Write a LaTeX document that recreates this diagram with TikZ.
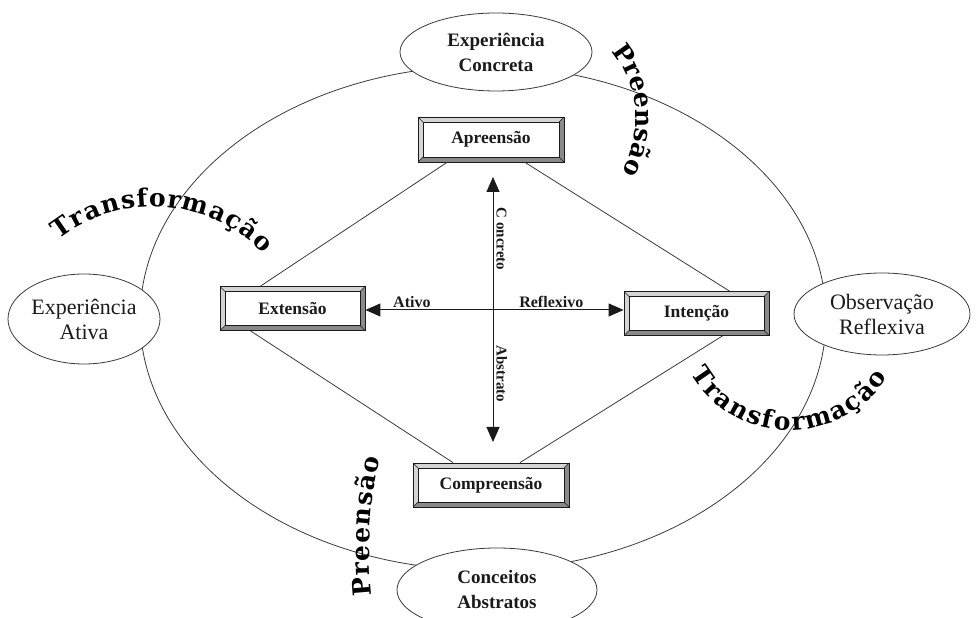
\documentclass[tikz,border=0pt]{standalone}
\usepackage{fontspec}
\setmainfont{Liberation Serif}
\newfontfamily\curvefont{DejaVu Serif}
\usetikzlibrary{arrows.meta,positioning,shapes.geometric,decorations.text}
\definecolor{kolbInk}{HTML}{1A1A1A}
\definecolor{kolbLine}{HTML}{3A3A3A}
\definecolor{kolbBevelLight}{HTML}{D4D4D4}
\definecolor{kolbBevelDark}{HTML}{8A8A8A}
\newcommand\curvestyle{\curvefont\bfseries\fontsize{25}{28}\selectfont}
\tikzset{
  every picture/.style={text=kolbInk},
  kolb cycle/.style={draw=kolbLine, line width=0.8pt},
  kolb stage/.style={ellipse, draw=kolbLine, line width=0.8pt, fill=white,
    inner sep=0pt, align=center, font=\fontsize{22}{25}\selectfont},
  kolb stage bold/.style={kolb stage, font=\bfseries\fontsize{19}{25}\selectfont},
  kolb box/.style={draw=kolbInk, line width=0.8pt, fill=kolbBevelDark,
    minimum width=145pt, minimum height=44pt, inner sep=0pt,
    font=\bfseries\fontsize{17.5}{20}\selectfont,
    path picture={
      \fill[kolbBevelLight] (path picture bounding box.south west)
        -- (path picture bounding box.north west)
        -- (path picture bounding box.north east)
        -- ([xshift=-5pt,yshift=-5pt]path picture bounding box.north east)
        -- ([xshift=5pt,yshift=-5pt]path picture bounding box.north west)
        -- ([xshift=5pt,yshift=5pt]path picture bounding box.south west) -- cycle;
      \draw[kolbInk, line width=0.6pt, fill=white]
        ([xshift=5pt,yshift=5pt]path picture bounding box.south west)
        rectangle ([xshift=-5pt,yshift=-5pt]path picture bounding box.north east);
      \foreach \c/\dx/\dy in {south west/5/5, north west/5/-5, north east/-5/-5, south east/-5/5}
        \draw[kolbInk, line width=0.5pt] (path picture bounding box.\c)
          -- ([xshift=\dx pt,yshift=\dy pt]path picture bounding box.\c);
    }},
  kolb line/.style={draw=kolbLine, line width=0.8pt},
  kolb arrow/.style={{Triangle[length=15pt,width=13pt]}-{Triangle[length=15pt,width=13pt]},
    draw=kolbInk, line width=1pt},
  kolb label/.style={font=\bfseries\fontsize{16}{18}\selectfont, inner sep=1.5pt},
  kolb axis label/.style={font=\bfseries\fontsize{15}{17}\selectfont, inner sep=3pt,
    rotate=-90, anchor=south},
  kolb curve/.style={decorate, decoration={text along path,
    text align={fit to path}, text={|\curvestyle|#1}}}
}

\begin{document}
\begin{tikzpicture}[x=1pt,y=1pt]
  \useasboundingbox (0,0) rectangle (978,618);
  \clip (0,0) rectangle (978,618);

  \draw[kolb cycle] (483,300) ellipse [x radius=343, y radius=252];

  \node[kolb stage bold, minimum width=192pt, minimum height=78pt] (concreta) at (496,566) {Experiência\\Concreta};
  \node[kolb stage, minimum width=152pt, minimum height=90pt] (ativa) at (84,299) {Experiência\\Ativa};
  \node[kolb stage, minimum width=176pt, minimum height=82pt] (reflexiva) at (882,304) {Observação\\Reflexiva};
  \node[kolb stage bold, minimum width=200pt, minimum height=84pt] (abstratos) at (497,28) {Conceitos\\Abstratos};

  \node[kolb box, minimum width=146pt, minimum height=45pt] (apreensao) at (491,478.5) {Apreensão};
  \node[kolb box] (extensao) at (292.5,309.5) {Extensão};
  \node[kolb box] (intencao) at (696.5,304.5) {Intenção};
  \node[kolb box, minimum width=156pt] (compreensao) at (491,133) {Compreensão};

  \draw[kolb line] ([xshift=-44pt]apreensao.south) -- ([xshift=-32pt]extensao.north);
  \draw[kolb line] ([xshift=34pt]apreensao.south) -- ([xshift=33pt]intencao.north);
  \draw[kolb line] ([xshift=-42pt]extensao.south) -- ([xshift=-38pt]compreensao.north);
  \draw[kolb line] ([xshift=26pt]intencao.south) -- ([xshift=29pt]compreensao.north);

  \coordinate (concreto end) at (493,441);
  \coordinate (abstrato end) at (493,176);
  \draw[kolb arrow] (concreto end) -- (abstrato end)
    node[kolb axis label, pos=0.234] {C oncreto}
    node[kolb axis label, pos=0.743] {Abstrato};
  \draw[kolb arrow] ([yshift=-1.5pt]extensao.east) -- ([yshift=3.5pt]intencao.west)
    node[kolb label, pos=0.18, above] {Ativo}
    node[kolb label, pos=0.72, above] {Reflexivo};

  \path[kolb curve=Transformação] (153,258) ++(128:153) arc[start angle=128, end angle=44, radius=153];
  \path[kolb curve=Transformação] (790,302.5) ++(210:115) arc[start angle=210, end angle=328, radius=115];
  \path[kolb curve=Preensão] (531,499) ++(40:105) arc[start angle=40, end angle=-29, radius=105];
  \path[kolb curve=Preensão] (788,66) ++(186:419) arc[start angle=186, end angle=167, radius=419];
\end{tikzpicture}
\end{document}
